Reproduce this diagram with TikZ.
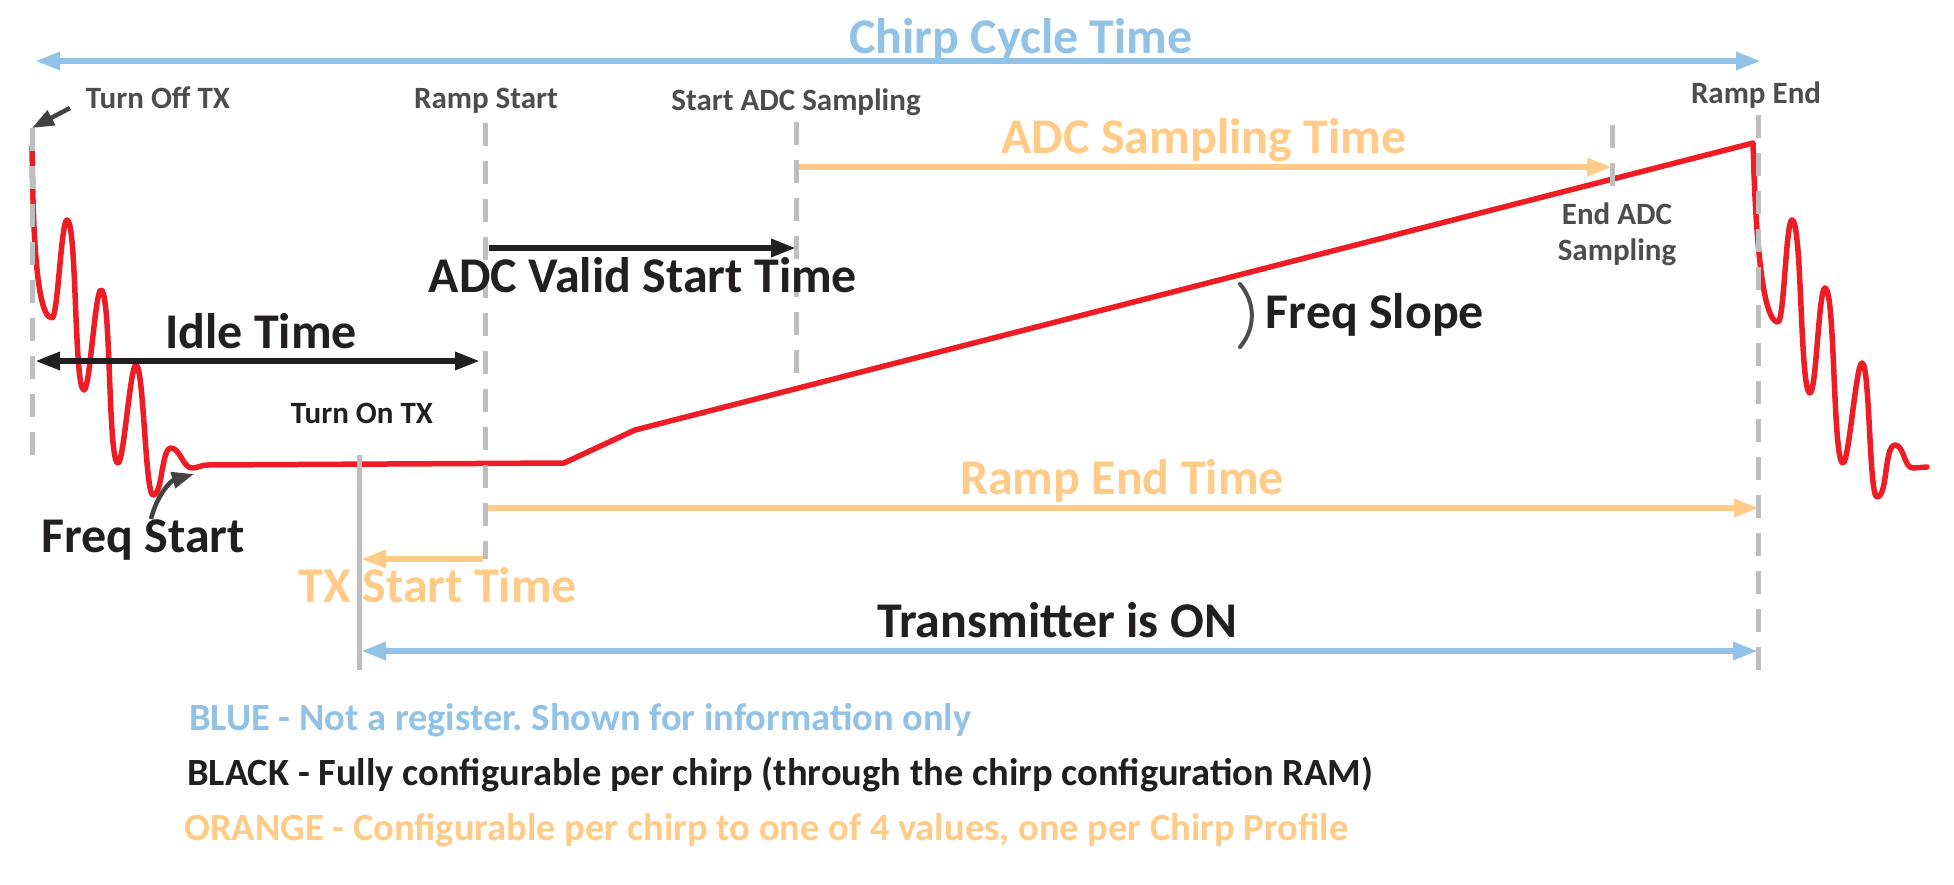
\documentclass[tikz,border=0pt]{standalone}
\usepackage{fontspec}
\setmainfont{Carlito}
\usetikzlibrary{arrows.meta,positioning}
\frenchspacing

\definecolor{chirpblue}{HTML}{92C2E6}
\definecolor{chirporange}{HTML}{FFCB87}
\definecolor{chirpred}{HTML}{EE1C25}
\definecolor{chirpblack}{HTML}{231F20}
\definecolor{chirpgray}{HTML}{4D4D4D}
\definecolor{guidegray}{HTML}{BEBEBE}

\tikzstyle{biglabel} = [font=\fontsize{50}{60}\selectfont\bfseries, anchor=base, inner sep=0pt]
\tikzstyle{marklabel} = [font=\fontsize{31}{36}\selectfont\bfseries, anchor=base, inner sep=0pt, text=chirpgray]
\tikzstyle{legendline} = [font=\fontsize{38.5}{46}\selectfont\bfseries, anchor=base west, inner sep=0pt]
\tikzstyle{guideline} = [draw=guidegray, line width=5pt, dash pattern=on 23pt off 15pt]
\tikzstyle{timespan} = [line width=6pt]
\tikzstyle{pointer} = [draw=chirpblack!85, line width=4.5pt, -{Triangle[length=22pt,width=16pt]}]
\tikzstyle{chirpline} = [draw=chirpred, line width=5.5pt, line join=round, line cap=round]
\tikzstyle{wig} = [out=0, in=180, looseness=0.15]

\begin{document}
\begin{tikzpicture}[x=1pt, y=-1pt, >={Triangle[length=25pt,width=17pt]}]

    % We start by fixing the page
    \useasboundingbox (0,0) rectangle (1954,884);

    % the chirp itself
    \draw [chirpline] (32,147) to[out=-88, in=180, looseness=0.3] (52,318)
        to[wig] (67,220) to[wig] (84,390) to[wig] (101,290) to[wig] (118,463)
        to[wig] (136,365) to[wig] (153,495) to[wig, looseness=0.5] (171,448)
        to[wig, looseness=0.8] (192,468) to[wig, looseness=0.8] (207,465)
        -- (564,463) -- (635,430) -- (1753,143)
        to[out=-88, in=180, looseness=0.3] (1778,322)
        to[wig] (1792,220) to[wig] (1810,393) to[wig] (1825,288) to[wig] (1843,463)
        to[wig] (1862,363) to[wig] (1877,497) to[wig, looseness=0.5] (1895,445)
        to[wig, looseness=0.8] (1913,468) -- (1927,467);

    % timing lines
    \draw [guideline] (32,128) coordinate (toff) -- (32,455);
    \draw [guideline] (485,123) coordinate (rstart) -- (485,559);
    \draw [guideline] (796,122) coordinate (astart) -- (796,375);
    \draw [guideline] (1612,125) coordinate (aend) -- (1612,188);
    \draw [guideline] (1758,115) coordinate (rend) -- (1758,670);
    \draw [draw=guidegray, line width=5pt] (359,455) coordinate (ton) -- (359,670);

    % labels
    \node [biglabel, text=chirpblue] (cycle) at (1021,53) {Chirp Cycle Time};
    \node [marklabel] (turnoff) at (158,108) {Turn Off TX};
    \node [marklabel] (rampstart) at (486,108) {Ramp Start};
    \node [marklabel] (adcstart) at (796,110) {Start ADC Sampling};
    \node [marklabel] (rampend) at (1756,103) {Ramp End};
    \node [marklabel] (adcend) at (1617,224) {End ADC};
    \node [marklabel] (sampling) at ([yshift=-36pt]adcend.base) {Sampling};
    \node [marklabel, text=chirpblack] (turnon) at (362,423) {Turn On TX};
    \node [biglabel, text=chirporange] (adcsampling) at (1204,153) {ADC Sampling Time};
    \node [biglabel, text=chirpblack] (adcvalid) at (643,292) {ADC Valid Start Time};
    \node [biglabel, text=chirpblack] (freqslope) at (1375,328) {Freq Slope};
    \node [biglabel, text=chirpblack] (idle) at (261,348) {Idle Time};
    \node [biglabel, text=chirporange] (rampendtime) at (1122,494) {Ramp End Time};
    \node [biglabel, text=chirpblack] (freqstart) at (143,552) {Freq Start};
    \node [biglabel, text=chirporange] (txstart) at (438,602) {TX Start Time};
    \node [biglabel, text=chirpblack] (txon) at (1057,637) {Transmitter is ON};

    % legend
    \node [legendline, text=chirpblue] (lblue) at (189,730) {BLUE - Not a register. Shown for information only};
    \node [legendline, text=chirpblack] (lblack) at (187,785) {BLACK - Fully configurable per chirp (through the chirp configuration RAM)};
    \node [legendline, text=chirporange] (lorange) at (184,840) {ORANGE - Configurable per chirp to one of 4 values, one per Chirp Profile};

    % arrow ends
    \coordinate (cyclel) at (35,61);
    \coordinate (cycler) at (1761,61);
    \coordinate (idlel) at (35,361);
    \coordinate (idler) at (480,361);
    \coordinate (validl) at (489,248);
    \coordinate (validr) at (796,248);
    \coordinate (samplel) at (799,167);
    \coordinate (sampler) at (1612,167);
    \coordinate (rampl) at (488,508);
    \coordinate (rampr) at (1759,508);
    \coordinate (txr) at (483,559);
    \coordinate (txl) at (361,559);
    \coordinate (onl) at (361,651);
    \coordinate (onr) at (1758,651);
    \coordinate (offtail) at (70,108);
    \coordinate (starttail) at (151,519);
    \coordinate (starttip) at (194,474);

    \draw [timespan, chirpblue, <->] (cyclel) -- (cycler);
    \draw [timespan, chirpblack, <->] (idlel) -- (idler);
    \draw [timespan, chirpblack, ->] (validl) -- (validr);
    \draw [timespan, chirporange, ->] (samplel) -- (sampler);
    \draw [timespan, chirporange, ->] (rampl) -- (rampr);
    \draw [timespan, chirporange, ->] (txr) -- (txl);
    \draw [timespan, chirpblue, <->] (onl) -- (onr);
    \draw [pointer] (offtail) -- (toff);
    \draw [pointer] (starttail) to[bend left=30] (starttip);
    \draw [chirpgray, line width=4pt, line cap=round] (1240,284) to[bend left=40] (1240,347);

\end{tikzpicture}
\end{document}
